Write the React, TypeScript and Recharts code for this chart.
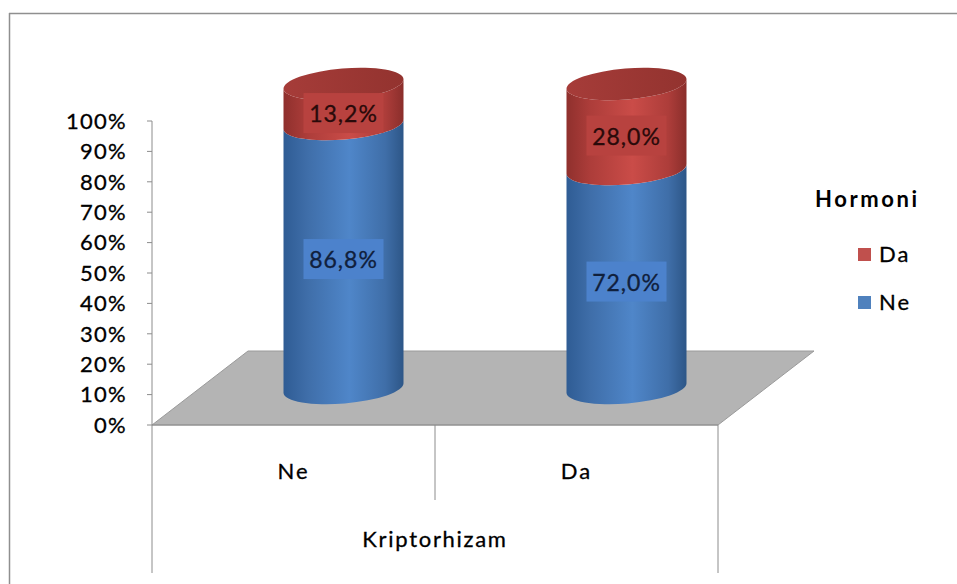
import { BarChart, Bar, XAxis, YAxis, Legend, LabelList, Label } from 'recharts'

const categories = ['Ne', 'Da']
const hormoniNe = [86.8, 72.0]
const hormoniDa = [13.2, 28.0]
const yTicks = [0, 10, 20, 30, 40, 50, 60, 70, 80, 90, 100]

const chartData = categories.map((name, i) => ({ name, ne: hormoniNe[i], da: hormoniDa[i] }))

const FONT = 'Lato, "Open Sans", sans-serif'
const AXIS = '#8c8c8c'

// plot rectangle in page pixels
const PLOT = { left: 152, top: 121, right: 718, bottom: 425 }
// the 3D look: bars sit back on the floor, up and to the right of the axis
const DEPTH = { dx: 49.5, dy: -37 }
const TILT = 5
const RY = 15.5

const bandWidth = (w: number) => Math.sqrt(w * w + 4 * TILT * TILT) / 2

function Cylinder(props: any) {
  const { x, y, width, height, gradient, cap } = props
  const x0 = x + DEPTH.dx
  const x1 = x0 + width
  const yTop = y + DEPTH.dy
  const yBottom = yTop + height
  const rx = bandWidth(width)
  const rot = (-Math.atan2(2 * TILT, width) * 180) / Math.PI
  const arc = `A ${rx} ${RY} ${rot}`
  const body = [
    `M ${x0} ${yBottom + TILT}`,
    `${arc} 0 0 ${x1} ${yBottom - TILT}`,
    `L ${x1} ${yTop - TILT}`,
    `${arc} 0 1 ${x0} ${yTop + TILT}`,
    'Z',
  ].join(' ')
  return (
    <g>
      <path d={body} fill={`url(#${gradient})`} />
      {cap && (
        <ellipse
          cx={x0 + width / 2}
          cy={yTop}
          rx={rx}
          ry={RY}
          transform={`rotate(${rot} ${x0 + width / 2} ${yTop})`}
          fill="url(#capRed)"
        />
      )}
    </g>
  )
}

function ValueLabel(props: any) {
  const { x, y, width, height, value, boxFill, textFill, dy } = props
  const cx = x + width / 2 + DEPTH.dx
  const cy = y + height / 2 + DEPTH.dy + dy
  return (
    <g>
      <rect x={cx - 40} y={cy - 20} width={80} height={40} fill={boxFill} />
      <text
        x={cx}
        y={cy}
        textAnchor="middle"
        dominantBaseline="central"
        fontFamily={FONT}
        fontSize={23}
        letterSpacing={1}
        fill={textFill}
        stroke={textFill}
        strokeWidth={0.3}
      >
        {Number(value).toFixed(1).replace('.', ',')}%
      </text>
    </g>
  )
}

// floor plane plus the frame and the category dividers below it
function Backdrop() {
  const { left, right, bottom } = PLOT
  const back = 351
  const skew = 96
  return (
    <g>
      <line x1={9.5} x2={9.5} y1={13} y2={584} stroke="#8f8f8f" strokeWidth={1.5} />
      <line x1={9} x2={957} y1={13.5} y2={13.5} stroke="#8f8f8f" strokeWidth={1.5} />
      <polygon
        points={`${left},${bottom} ${right},${bottom} ${right + skew},${back} ${left + skew},${back}`}
        fill="#b4b4b4"
        stroke="#9a9a9a"
      />
      <line x1={left} x2={left} y1={bottom} y2={573} stroke={AXIS} />
      <line x1={(left + right) / 2} x2={(left + right) / 2} y1={bottom} y2={500} stroke={AXIS} />
      <line x1={right} x2={right} y1={bottom} y2={573} stroke={AXIS} />
    </g>
  )
}

function HormoniLegend({ payload }: any) {
  return (
    <div style={{ fontFamily: FONT, color: '#000', width: 130 }}>
      <div style={{ fontWeight: 700, fontSize: 22, lineHeight: '24px', letterSpacing: 2.6 }}>Hormoni</div>
      {(payload ?? []).map((item: any, i: number) => (
        <div
          key={item.value}
          style={{
            position: 'absolute',
            left: 43,
            top: 55 + i * 48,
            display: 'flex',
            alignItems: 'center',
            fontSize: 22,
            lineHeight: '24px',
            letterSpacing: 2,
            WebkitTextStroke: '0.3px #000',
          }}
        >
          <span style={{ width: 13, height: 13, background: item.color, marginRight: 8 }} />
          {item.value}
        </div>
      ))}
    </div>
  )
}

export default function App() {
  return (
    <div style={{ position: 'absolute', left: 0, top: 0, width: 957, height: 584, overflow: 'hidden', background: '#fff' }}>
      <BarChart
        width={957}
        height={584}
        data={chartData}
        barSize={120}
        margin={{ top: PLOT.top, left: PLOT.left - 60, right: 957 - PLOT.right, bottom: 0 }}
      >
        <defs>
          <linearGradient id="bodyBlue" x1="0" x2="1" y1="0" y2="0">
            <stop offset="0" stopColor="#2f5c94" />
            <stop offset="0.2" stopColor="#3f6ea9" />
            <stop offset="0.55" stopColor="#4f86c9" />
            <stop offset="0.85" stopColor="#3f6ea8" />
            <stop offset="1" stopColor="#2d5687" />
          </linearGradient>
          <linearGradient id="bodyRed" x1="0" x2="1" y1="0" y2="0">
            <stop offset="0" stopColor="#8f302d" />
            <stop offset="0.2" stopColor="#ad3d3a" />
            <stop offset="0.55" stopColor="#ca4c48" />
            <stop offset="0.85" stopColor="#ad3d3a" />
            <stop offset="1" stopColor="#8a2e2b" />
          </linearGradient>
          <linearGradient id="capRed" x1="0" x2="1" y1="0" y2="0">
            <stop offset="0" stopColor="#a63c39" />
            <stop offset="1" stopColor="#93332f" />
          </linearGradient>
        </defs>
        <Backdrop />
        <XAxis
          dataKey="name"
          height={159}
          axisLine={{ stroke: AXIS }}
          tickLine={false}
          tickMargin={32}
          tick={{ fontFamily: FONT, fontSize: 22, fill: '#000', stroke: '#000', strokeWidth: 0.3, letterSpacing: 2 }}
        >
          <Label
            value="Kriptorhizam"
            position="insideBottom"
            offset={37}
            style={{ fontFamily: FONT, fontSize: 22, fill: '#000', stroke: '#000', strokeWidth: 0.3, letterSpacing: 1.7 }}
          />
        </XAxis>
        <YAxis
          domain={[0, 100]}
          ticks={yTicks}
          interval={0}
          width={60}
          tickSize={5}
          tickMargin={20}
          tickFormatter={(v: number) => `${v}%`}
          axisLine={{ stroke: AXIS }}
          tickLine={{ stroke: AXIS }}
          tick={{ fontFamily: FONT, fontSize: 22, fill: '#000', stroke: '#000', strokeWidth: 0.3, letterSpacing: 1.3 }}
        />
        <Legend
          layout="vertical"
          align="center"
          verticalAlign="middle"
          content={<HormoniLegend />}
          wrapperStyle={{ position: 'absolute', left: 815, top: 187, width: 130, height: 130 }}
        />
        <Bar
          dataKey="ne"
          name="Ne"
          stackId="h"
          fill="#4f81bd"
          isAnimationActive={false}
          shape={(p: any) => <Cylinder {...p} gradient="bodyBlue" />}
        >
          <LabelList
            dataKey="ne"
            content={(p: any) => <ValueLabel {...p} boxFill="#4c82cc" textFill="#10203c" dy={3} />}
          />
        </Bar>
        <Bar
          dataKey="da"
          name="Da"
          stackId="h"
          fill="#c0504d"
          isAnimationActive={false}
          shape={(p: any) => <Cylinder {...p} gradient="bodyRed" cap />}
        >
          <LabelList
            dataKey="da"
            content={(p: any) => <ValueLabel {...p} boxFill="#b8423f" textFill="#2a0a0a" dy={9} />}
          />
        </Bar>
      </BarChart>
    </div>
  )
}
